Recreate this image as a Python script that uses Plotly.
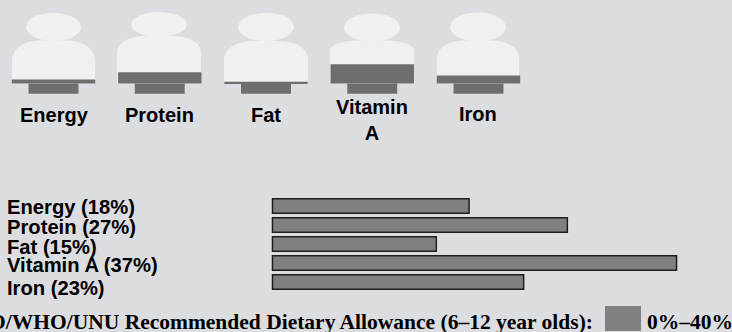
import plotly.graph_objects as go

W, H = 732, 332
nutrients = ["Energy", "Protein", "Fat", "Vitamin A", "Iron"]
values = [18, 27, 15, 37, 23]
figure_labels = ["Energy", "Protein", "Fat", "Vitamin<br>A", "Iron"]
footer_title = "FAO/WHO/UNU Recommended Dietary Allowance (6–12 year olds):"
legend_range = "0%–40%"

BG = "#dcdde0"
LIGHT = "#f0f0f0"
DARK = "#6e6e6e"
BAR = "#808080"
EDGE = "#1e1e1e"
SANS = "Liberation Sans"
SERIF = "Liberation Serif"

# silhouette geometry: (cx, head_cy, head_rx, head_ry, body_top, shoulder, half_width)
people = [
    (53.5, 27, 27.5, 14, 40.5, 61, 41.5),
    (159, 24.5, 28, 12.5, 36, 53, 42),
    (266, 27, 28, 14, 41, 60, 42),
    (372, 27.5, 28, 14, 40.5, 51, 42),
    (478, 27, 28, 14.5, 40.5, 58, 41),
]
label_pos = [(54, 115), (159, 115), (266, 115), (372, 120), (478, 114)]
list_label_y = [207, 227, 247, 265, 288]

px_x = lambda x: x / W
px_y = lambda y: 1 - y / H


def body_path(cx, top, sh, w, bottom=84):
    P = lambda x, y: f"{px_x(x):.5f},{px_y(y):.5f}"
    return (
        f"M {P(cx-w,bottom)} L {P(cx-w,sh)} "
        f"C {P(cx-w,sh-0.65*(sh-top))} {P(cx-0.68*w,top)} {P(cx-0.3*w,top)} "
        f"L {P(cx+0.3*w,top)} "
        f"C {P(cx+0.68*w,top)} {P(cx+w,sh-0.65*(sh-top))} {P(cx+w,sh)} "
        f"L {P(cx+w,bottom)} Z"
    )


shapes = []
for cx, hy, rx, ry, top, sh, w in people:
    shapes.append(dict(type="path", xref="paper", yref="paper", layer="below",
                       path=body_path(cx, top, sh, w), fillcolor=LIGHT, line_width=0))
    shapes.append(dict(type="circle", xref="paper", yref="paper", layer="below",
                       x0=px_x(cx - rx), x1=px_x(cx + rx), y0=px_y(hy + ry), y1=px_y(hy - ry),
                       fillcolor=LIGHT, line_width=0))
shapes.append(dict(type="rect", xref="paper", yref="paper",
                   x0=px_x(605), x1=px_x(641), y0=px_y(331), y1=px_y(306),
                   fillcolor=BAR, line_width=0))

annotations = []
for lab, (x, y) in zip(figure_labels, label_pos):
    annotations.append(dict(text=f"<b>{lab}</b>", xref="paper", yref="paper", x=px_x(x), y=px_y(y),
                            xanchor="center", yanchor="middle", showarrow=False, align="center",
                            font=dict(family=SANS, size=20, color="#000")))
for n, v, y in zip(nutrients, values, list_label_y):
    annotations.append(dict(text=f"<b>{n} ({v}%)</b>", xref="paper", yref="paper", x=px_x(5), y=px_y(y),
                            xanchor="left", yanchor="middle", showarrow=False,
                            font=dict(family=SANS, size=20.2, color="#000")))
annotations.append(dict(text=f"<b>{footer_title}</b>", xref="paper", yref="paper", x=px_x(595), y=px_y(321.5),
                        xanchor="right", yanchor="middle", showarrow=False,
                        font=dict(family=SERIF, size=21.5, color="#000")))
annotations.append(dict(text=f"<b>{legend_range}</b>", xref="paper", yref="paper", x=px_x(645), y=px_y(321.5),
                        xanchor="left", yanchor="middle", showarrow=False,
                        font=dict(family=SERIF, size=21.5, color="#000")))

fig = go.Figure()
# horizontal bars
fig.add_trace(go.Bar(x=values, y=nutrients, orientation="h", width=0.76,
                     marker=dict(color=BAR, line=dict(color=EDGE, width=1.5)),
                     xaxis="x", yaxis="y", hoverinfo="skip"))
# pictogram fill: foot, then a band rising to the value
FOOT_TOP = 13
fig.add_trace(go.Bar(x=figure_labels, y=[FOOT_TOP] * 5, width=0.47, marker=dict(color=DARK, line_width=0),
                     xaxis="x2", yaxis="y2", hoverinfo="skip"))
fig.add_trace(go.Bar(x=figure_labels, y=[v - FOOT_TOP for v in values], base=[FOOT_TOP] * 5, width=0.785,
                     marker=dict(color=DARK, line_width=0),
                     xaxis="x2", yaxis="y2", hoverinfo="skip"))

PX_PER_PCT = 10.92
hidden = dict(visible=False, showgrid=False, zeroline=False, fixedrange=True)
STEP = 106.25
fig.update_layout(
    width=W, height=H, margin=dict(l=0, r=0, t=0, b=0, pad=0),
    paper_bgcolor=BG, plot_bgcolor="rgba(0,0,0,0)", showlegend=False, barmode="overlay",
    xaxis=dict(hidden, domain=[0, 1], range=[-272.5 / PX_PER_PCT, (W - 272.5) / PX_PER_PCT]),
    yaxis=dict(hidden, domain=[0, 1], type="category", categoryorder="array", categoryarray=nutrients,
               range=[(H - 206) / 19, -206 / 19]),
    xaxis2=dict(hidden, domain=[0, 1], type="category", categoryorder="array", categoryarray=figure_labels,
                range=[-53.5 / STEP, (W - 53.5) / STEP], anchor="y2"),
    yaxis2=dict(hidden, domain=[0, 1], anchor="x2", range=[(93.8 - H) / 0.8, 93.8 / 0.8]),
    shapes=shapes, annotations=annotations,
)
fig.write_html("out.html", post_script="document.body.style.margin='0';document.body.style.background='%s';" % BG,
               config=dict(displayModeBar=False))
